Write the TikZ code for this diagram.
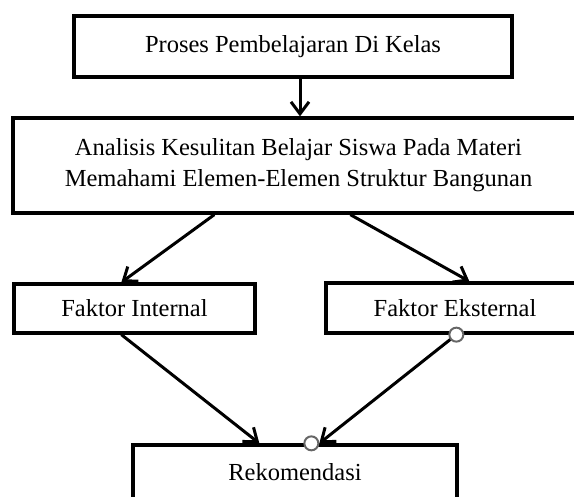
\documentclass[tikz,border=0pt]{standalone}
\usepackage{fontspec}
\setmainfont{Liberation Serif}
\usetikzlibrary{arrows.meta,calc}
\begin{document}
\begin{tikzpicture}[x=1pt,y=-1pt,
  box/.style={draw=black, line width=3.3pt, fill=white, inner sep=0pt, align=center,
    font=\fontsize{24.5}{31}\selectfont},
  conn/.style={draw=black, line width=3pt, -{Straight Barb[length=12pt,width=18pt,line width=3pt]}},
  handle/.style={circle, draw=black!60, line width=2pt, fill=white, minimum size=14pt, inner sep=0pt}]
\clip (0,0) rectangle (574,497);
\fill[white] (0,0) rectangle (574,497);
\node[box, minimum width=438pt, minimum height=61pt] (top) at (293,46.5) {Proses Pembelajaran Di Kelas};
\node[box, minimum width=571pt, minimum height=95pt] (main) at (298.5,165.5)
  {Analisis Kesulitan Belajar Siswa Pada Materi\\Memahami Elemen-Elemen Struktur Bangunan};
\node[box, minimum width=241pt, minimum height=49pt] (int) at (134.5,308.5) {Faktor Internal};
\node[box, minimum width=258pt, minimum height=50pt] (ext) at (455,308) {Faktor Eksternal};
\node[box, minimum width=324pt, minimum height=60pt] (rek) at (295,475) {\raisebox{6pt}{Rekomendasi}};
\draw[conn] ([xshift=7pt]top.south) -- ([xshift=7pt]top.south |- main.north);
\draw[conn] ([xshift=203pt]main.south west) -- ([xshift=109pt]int.north west);
\draw[conn] ([xshift=339pt]main.south west) -- ([xshift=145pt]ext.north west);
\draw[conn] ([xshift=109pt]int.south west) -- ([xshift=128pt]rek.north west);
\draw[conn] ([xshift=132pt]ext.south west) -- ([xshift=188pt]rek.north west);
\node[handle] (h1) at ([xshift=132pt]ext.south west) {};
\node[handle] (h2) at ([xshift=180pt]rek.north west) {};
\end{tikzpicture}
\end{document}
